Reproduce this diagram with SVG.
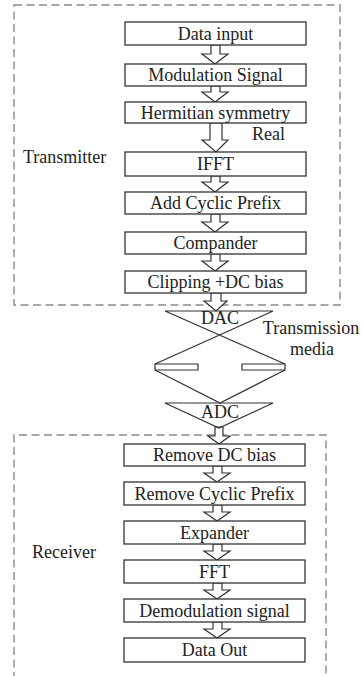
<svg xmlns="http://www.w3.org/2000/svg" width="361" height="676" viewBox="0 0 361 676">
<style>
  .grp{fill:none;stroke:#8a8a8a;stroke-width:1.4;stroke-dasharray:8 4.5}
  .box{fill:#fff;stroke:#333;stroke-width:1.3}
  .arr{fill:#fff;stroke:#333;stroke-width:1.2;stroke-linejoin:miter}
  .ln{fill:none;stroke:#333;stroke-width:1.2}
  .t{font-family:'Liberation Serif','Times New Roman',Times,serif;font-size:18px;fill:#222}
  .c{text-anchor:middle}
</style>
<rect width="361" height="676" fill="#fff"/>
<g id="transmitter">
  <rect class="grp" x="14" y="5" width="326" height="300"/>
  <text class="t" font-family="Liberation Serif, serif" x="23" y="163">Transmitter</text>
</g>
<g id="receiver">
  <path class="grp" d="M14,680 V435 H326 V680"/>
  <text class="t" font-family="Liberation Serif, serif" x="32" y="558">Receiver</text>
</g>
<g id="connectors">
  <polygon class="arr" points="211,45 220,45 220,54 228,54 215,64 202,54 211,54"/>
  <polygon class="arr" points="211,86 220,86 220,92 228,92 215,102 202,92 211,92"/>
  <polygon class="arr" points="210,123 222,123 222,140 228,140 216,152 202,140 210,140"/>
  <polygon class="arr" points="211,176 220,176 220,182 228,182 215,192 202,182 211,182"/>
  <polygon class="arr" points="211,214 220,214 220,222 228,222 215,232 202,222 211,222"/>
  <polygon class="arr" points="211,254 220,254 220,261 228,261 215,271 202,261 211,261"/>
  <polygon class="arr" points="211,293 221,293 221,301 227,301 216,311 204,301 211,301"/>
  <polygon class="arr" points="215,427 223,427 223,436 230,436 219,444 208,436 215,436"/>
  <polygon class="arr" points="213,466 222,466 222,473 230,473 217,482 204,473 213,473"/>
  <polygon class="arr" points="213,505 222,505 222,512 230,512 217,521 204,512 213,512"/>
  <polygon class="arr" points="213,544 222,544 222,551 230,551 217,560 204,551 213,551"/>
  <polygon class="arr" points="213,583 222,583 222,590 230,590 217,599 204,590 213,590"/>
  <polygon class="arr" points="213,622 222,622 222,629 230,629 217,638 204,629 213,629"/>
  <text class="t" font-family="Liberation Serif, serif" x="252" y="140">Real</text>
</g>
<g id="channel">
  <path class="ln" d="M165,311 H273 M165,311 L285,364 M273,311 L155,364"/>
  <path class="ln" d="M155,364 H198 V370 H155 Z M285,364 H242 V370 H285 Z"/>
  <path class="ln" d="M155,370 L220,403 L285,370"/>
  <path class="ln" d="M165,403 H273 L219,428 Z"/>
  <text class="t c" font-family="Liberation Serif, serif" x="220" y="324">DAC</text>
  <text class="t c" font-family="Liberation Serif, serif" x="220" y="418">ADC</text>
  <text class="t c" font-family="Liberation Serif, serif" x="311" y="334">Transmission</text>
  <text class="t c" font-family="Liberation Serif, serif" x="312" y="355">media</text>
</g>
<g id="n1"><rect class="box" x="125" y="22" width="181" height="23"/><text class="t c" font-family="Liberation Serif, serif" x="215.5" y="39.5">Data input</text></g>
<g id="n2"><rect class="box" x="125" y="64" width="181" height="22"/><text class="t c" font-family="Liberation Serif, serif" x="215.5" y="81">Modulation Signal</text></g>
<g id="n3"><rect class="box" x="125" y="102" width="181" height="21"/><text class="t c" font-family="Liberation Serif, serif" x="215.5" y="118.5">Hermitian symmetry</text></g>
<g id="n4"><rect class="box" x="125" y="152" width="181" height="24"/><text class="t c" font-family="Liberation Serif, serif" x="215.5" y="170">IFFT</text></g>
<g id="n5"><rect class="box" x="125" y="192" width="181" height="22"/><text class="t c" font-family="Liberation Serif, serif" x="215.5" y="209">Add Cyclic Prefix</text></g>
<g id="n6"><rect class="box" x="125" y="232" width="181" height="22"/><text class="t c" font-family="Liberation Serif, serif" x="215.5" y="249">Compander</text></g>
<g id="n7"><rect class="box" x="125" y="271" width="181" height="22"/><text class="t c" font-family="Liberation Serif, serif" x="215.5" y="288">Clipping +DC bias</text></g>
<g id="r1"><rect class="box" x="124" y="444" width="181" height="22"/><text class="t c" font-family="Liberation Serif, serif" x="214.5" y="461">Remove DC bias</text></g>
<g id="r2"><rect class="box" x="124" y="482" width="181" height="23"/><text class="t c" font-family="Liberation Serif, serif" x="214.5" y="499.5">Remove Cyclic Prefix</text></g>
<g id="r3"><rect class="box" x="124" y="521" width="181" height="23"/><text class="t c" font-family="Liberation Serif, serif" x="214.5" y="538.5">Expander</text></g>
<g id="r4"><rect class="box" x="124" y="560" width="181" height="23"/><text class="t c" font-family="Liberation Serif, serif" x="214.5" y="577.5">FFT</text></g>
<g id="r5"><rect class="box" x="124" y="599" width="181" height="23"/><text class="t c" font-family="Liberation Serif, serif" x="214.5" y="616.5">Demodulation signal</text></g>
<g id="r6"><rect class="box" x="124" y="638" width="181" height="24"/><text class="t c" font-family="Liberation Serif, serif" x="214.5" y="656">Data Out</text></g>
</svg>
